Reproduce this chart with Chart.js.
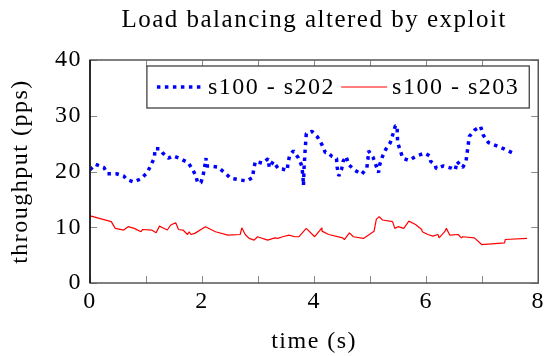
<!DOCTYPE html>
<html>
<head>
<meta charset="utf-8">
<script src="https://cdn.jsdelivr.net/npm/chart.js@4.4.0/dist/chart.umd.min.js"></script>
<style>
  html, body { margin: 0; padding: 0; background: #fff; }
  #wrap { width: 549px; height: 356px; }
</style>
</head>
<body>
<div id="wrap"><canvas id="myChart"></canvas></div>
<script>
(() => {
  'use strict'

  const chartTitle = 'Load balancing altered by exploit'
  const seriesNames = ['s100 - s202', 's100 - s203']

  // s100 - s202 (blue, dotted)
  const timeA = [0, 0.1, 0.25, 0.31, 0.47, 0.6, 0.65, 0.78, 0.91, 1.02, 1.09, 1.15, 1.16, 1.24, 1.3, 1.4,
    1.48, 1.61, 1.75, 1.83, 1.89, 1.92, 1.98, 2.02, 2.05, 2.07, 2.08, 2.14, 2.28, 2.4, 2.51, 2.67,
    2.8, 2.9, 2.92, 2.95, 3.08, 3.18, 3.2, 3.27, 3.36, 3.45, 3.52, 3.53, 3.56, 3.63, 3.72, 3.78,
    3.8, 3.81, 3.82, 3.84, 3.86, 3.96, 4.06, 4.14, 4.2, 4.24, 4.32, 4.4, 4.41, 4.44, 4.49, 4.52,
    4.57, 4.62, 4.73, 4.85, 4.94, 4.96, 4.97, 5.05, 5.15, 5.17, 5.22, 5.28, 5.36, 5.41, 5.45, 5.48,
    5.49, 5.54, 5.58, 5.69, 5.83, 5.98, 6.06, 6.08, 6.16, 6.18, 6.31, 6.45, 6.52, 6.55, 6.65, 6.71,
    6.75, 6.77, 6.86, 6.97, 7.02, 7.11, 7.26, 7.4, 7.53]
  const rateA = [20.3, 21.3, 20.7, 19.6, 19.6, 19.2, 18.6, 18.1, 18.7, 19.8, 21.2, 22.5, 24.1, 24.1, 23.3, 22.4,
    22.8, 22.3, 21.6, 20.4, 19.2, 18.0, 18.0, 19.4, 21.0, 22.4, 21.0, 21.0, 20.8, 19.8, 18.8, 18.5,
    18.3, 18.9, 20.3, 21.8, 21.5, 22.3, 20.7, 21.8, 20.5, 20.4, 20.2, 21.2, 22.8, 23.7, 22.4, 21.0,
    19.2, 17.5, 20.6, 23.9, 26.8, 27.2, 26.2, 24.8, 23.4, 23.4, 22.7, 22.3, 20.8, 19.2, 20.4, 21.9,
    22.7, 21.2, 20.2, 19.5, 20.6, 22.2, 23.7, 22.6, 19.8, 21.2, 22.7, 24.0, 25.2, 26.8, 28.2, 28.2,
    25.2, 23.7, 22.4, 22.0, 22.8, 23.3, 22.8, 21.8, 21.2, 20.5, 21.0, 20.6, 20.3, 21.8, 20.7, 21.8,
    24.8, 26.3, 27.4, 28.1, 26.5, 25.2, 24.6, 24.0, 23.4]

  // s100 - s203 (red, solid)
  const timeB = [0, 0, 0.02, 0.38, 0.45, 0.6, 0.68, 0.79, 0.91, 0.94, 1.1, 1.18, 1.24, 1.28, 1.38, 1.44,
    1.53, 1.58, 1.66, 1.74, 1.77, 1.8, 1.87, 2.06, 2.24, 2.46, 2.68, 2.71, 2.77, 2.84, 2.93, 2.99,
    3.17, 3.3, 3.35, 3.44, 3.55, 3.66, 3.73, 3.86, 4.01, 4.14, 4.14, 4.26, 4.51, 4.54, 4.63, 4.7,
    4.88, 5.07, 5.11, 5.16, 5.22, 5.4, 5.44, 5.5, 5.6, 5.69, 5.81, 5.92, 5.93, 6.03, 6.12, 6.21,
    6.23, 6.33, 6.36, 6.42, 6.57, 6.63, 6.65, 6.86, 6.99, 7.4, 7.41, 7.8]
  const rateB = [12.6, 11.7, 12.0, 11.0, 9.8, 9.5, 10.1, 9.8, 9.2, 9.6, 9.5, 9.0, 10.2, 10.0, 9.5, 10.4,
    10.8, 9.6, 9.5, 8.7, 9.2, 8.7, 8.9, 10.1, 9.2, 8.6, 8.7, 9.9, 8.7, 8.0, 7.7, 8.3,
    7.7, 8.1, 8.0, 8.3, 8.6, 8.3, 8.3, 9.8, 8.3, 9.9, 9.3, 8.7, 8.1, 7.8, 9.0, 8.3,
    8.0, 9.3, 11.4, 11.9, 11.3, 11.0, 9.8, 10.1, 9.8, 11.1, 10.5, 9.6, 9.2, 8.7, 8.4, 8.7,
    8.1, 9.2, 9.8, 8.6, 8.7, 8.1, 8.3, 8.1, 6.9, 7.2, 7.8, 8.0]

  const xRange = [0, 8]
  const yRange = [0, 40]
  const xLabelStep = 2
  const yLabelStep = 10

  // Times-like serif, spaced out a little to get closer to Computer Modern widths
  const serif = "'Liberation Serif', 'DejaVu Serif', serif"
  const spacing = '1.5px'
  const fontSize = 24
  const blue = '#0000ff'
  const red = '#ff0000'
  const blueDash = [3.5, 4.5]

  const toPoints = (xs, ys) => xs.map((x, i) => ({ x: x, y: ys[i] }))

  const letterSpacing = {
    id: 'letterSpacing',
    beforeLayout(chart) { chart.ctx.letterSpacing = spacing },
    beforeDraw(chart) { chart.ctx.letterSpacing = spacing }
  }

  // pgfplots-like frame, inward ticks on all four sides, legend box and title
  const pgfLook = {
    id: 'pgfLook',
    afterDatasetsDraw(chart) {
      const { ctx, chartArea: a, scales: { x, y } } = chart
      ctx.save()
      ctx.letterSpacing = spacing
      ctx.strokeStyle = '#8a8a8a'
      ctx.lineWidth = 1
      ctx.beginPath()
      x.ticks.forEach(t => {
        const px = Math.round(x.getPixelForValue(t.value)) + 0.5
        ctx.moveTo(px, a.bottom); ctx.lineTo(px, a.bottom - 7)
        ctx.moveTo(px, a.top); ctx.lineTo(px, a.top + 7)
      })
      y.ticks.forEach(t => {
        const py = Math.round(y.getPixelForValue(t.value)) + 0.5
        ctx.moveTo(a.left, py); ctx.lineTo(a.left + 7, py)
        ctx.moveTo(a.right, py); ctx.lineTo(a.right - 7, py)
      })
      ctx.stroke()

      ctx.strokeStyle = '#555'
      ctx.lineWidth = 1.5
      ctx.strokeRect(a.left, a.top, a.right - a.left, a.bottom - a.top)
      ctx.strokeStyle = '#111'
      ctx.beginPath(); ctx.moveTo(a.left, a.top); ctx.lineTo(a.left, a.bottom); ctx.stroke()

      // legend
      const boxR = a.right - 9, boxT = a.top + 6, boxH = 42
      const sample = 46
      ctx.font = fontSize + 'px ' + serif
      const w0 = ctx.measureText(seriesNames[0]).width
      const w1 = ctx.measureText(seriesNames[1]).width
      const boxW = 10 + sample + 5 + w0 + 6 + sample + 5 + w1 + 10
      const boxL = boxR - boxW
      ctx.fillStyle = '#fff'
      ctx.fillRect(boxL, boxT, boxW, boxH)
      ctx.strokeStyle = '#333'
      ctx.lineWidth = 1.2
      ctx.strokeRect(boxL, boxT, boxW, boxH)
      const cy = boxT + boxH / 2
      let cx = boxL + 10
      ctx.strokeStyle = blue
      ctx.lineWidth = 3.5
      ctx.setLineDash(blueDash)
      ctx.beginPath(); ctx.moveTo(cx, cy); ctx.lineTo(cx + sample, cy); ctx.stroke()
      ctx.setLineDash([])
      cx += sample + 5
      ctx.fillStyle = '#000'
      ctx.textBaseline = 'middle'
      ctx.fillText(seriesNames[0], cx, cy + 1)
      cx += w0 + 6
      ctx.strokeStyle = red
      ctx.lineWidth = 1.2
      ctx.beginPath(); ctx.moveTo(cx, cy); ctx.lineTo(cx + sample, cy); ctx.stroke()
      cx += sample + 5
      ctx.fillText(seriesNames[1], cx, cy + 1)

      // title centred over plot area
      ctx.font = (fontSize + 1) + 'px ' + serif
      ctx.textAlign = 'center'
      ctx.fillText(chartTitle, (a.left + a.right) / 2, 20)
      ctx.restore()
    }
  }

  const ctx = document.getElementById('myChart')
  // eslint-disable-next-line no-unused-vars
  const myChart = new Chart(ctx, {
    type: 'line',
    data: {
      datasets: [{
        label: seriesNames[0],
        data: toPoints(timeA, rateA),
        borderColor: blue,
        borderWidth: 3.5,
        borderDash: blueDash,
        borderJoinStyle: 'bevel',
        pointRadius: 0,
        tension: 0,
        fill: false
      }, {
        label: seriesNames[1],
        data: toPoints(timeB, rateB),
        borderColor: red,
        borderWidth: 1.2,
        borderJoinStyle: 'bevel',
        pointRadius: 0,
        tension: 0,
        fill: false
      }]
    },
    options: {
      responsive: true,
      maintainAspectRatio: false,
      animation: false,
      layout: { padding: { top: 60, right: 8, left: 0, bottom: 0 } },
      plugins: {
        legend: { display: false },
        tooltip: { enabled: false },
        title: { display: false }
      },
      scales: {
        x: {
          type: 'linear',
          min: xRange[0],
          max: xRange[1],
          grid: { display: false, drawTicks: false },
          border: { display: false },
          ticks: {
            stepSize: 1,
            padding: 4,
            color: '#000',
            font: { family: serif, size: fontSize },
            maxRotation: 0,
            callback: v => (v % xLabelStep === 0 ? v : '')
          },
          title: {
            display: true,
            text: 'time (s)',
            color: '#000',
            font: { family: serif, size: fontSize },
            padding: { top: 4, bottom: 0 }
          },
          afterFit: scale => { scale.height = 73 }
        },
        y: {
          min: yRange[0],
          max: yRange[1],
          grid: { display: false, drawTicks: false },
          border: { display: false },
          ticks: {
            stepSize: 5,
            padding: 8,
            color: '#000',
            font: { family: serif, size: fontSize },
            callback: v => (v % yLabelStep === 0 ? v : '')
          },
          title: {
            display: true,
            text: 'throughput (pps)',
            color: '#000',
            font: { family: serif, size: fontSize },
            padding: { top: 6, bottom: 0 }
          },
          afterFit: scale => { scale.width = 90 }
        }
      }
    },
    plugins: [letterSpacing, pgfLook]
  })
})()
</script>
</body>
</html>
